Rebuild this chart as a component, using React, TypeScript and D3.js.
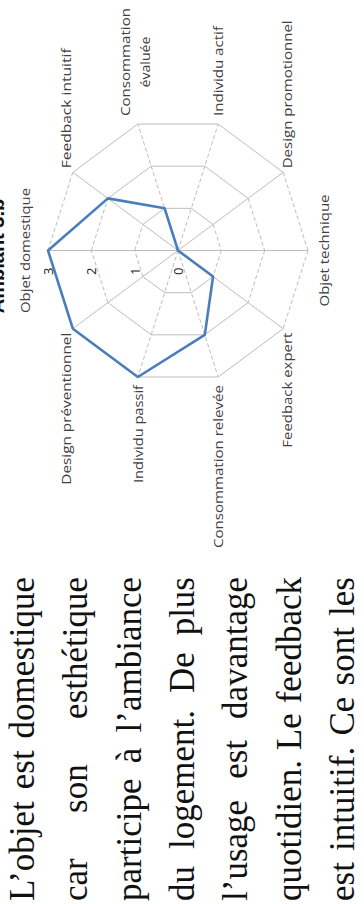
import React from 'react';
import * as d3 from 'd3';

// ---- data ----
const categories = [
  'Objet domestique',
  'Feedback intuitif',
  'Consommation évaluée',
  'Individu actif',
  'Design promotionnel',
  'Objet technique',
  'Feedback expert',
  'Consommation relevée',
  'Individu passif',
  'Design préventionnel',
];
const values = [3, 2, 1, 0, 0, 0, 1, 2, 3, 3];
const ticks = [0, 1, 2, 3];
const chartTitle = 'Ambiant 3.b';
const paragraphLines = [
  'L’objet est domestique',
  'car son esthétique',
  'participe à l’ambiance',
  'du logement. De plus',
  'l’usage est davantage',
  'quotidien. Le feedback',
  'est intuitif. Ce sont les',
];

// ---- layout (page is rotated -90deg; coordinates below are in the upright frame) ----
const W = 364;
const H = 904;
const UP_W = H; // upright width
const cx = 653.5;
const cy = 178;
const R = 130;
const sx = 1.023;
const labelFontSize = 13;
const labelFamily = "'Open Sans', 'DejaVu Sans', sans-serif";
// rendered widths of the (horizontally stretched) label texts, px
const labelWidths: Record<string, number> = {
  'Objet domestique': 125,
  'Feedback intuitif': 120,
  Consommation: 108,
  'évaluée': 51,
  'Individu actif': 90,
  'Design promotionnel': 148,
  'Objet technique': 112,
  'Feedback expert': 115,
  'Consommation relevée': 163,
  'Individu passif': 98,
  'Design préventionnel': 152,
};
const bodyFontSize = 35;
const bodyFamily = "'Liberation Serif', 'Times New Roman', serif";
const colLeft = 3;
const colRight = 327;
const lineTop = 34;
const linePitch = 53.3;

let ctx: CanvasRenderingContext2D | null = null;
function measure(text: string, font: string): number {
  if (!ctx) ctx = document.createElement('canvas').getContext('2d');
  if (!ctx) return text.length * 8;
  ctx.font = font;
  return ctx.measureText(text).width;
}

export default function App() {
  const n = categories.length;
  const r = d3.scaleLinear().domain([0, d3.max(ticks) as number]).range([0, R]);
  const ang = d3.scaleLinear().domain([0, n]).range([0, 2 * Math.PI]);
  const pt = (i: number, v: number): [number, number] => [
    cx + r(v) * Math.sin(ang(i)) * sx,
    cy - r(v) * Math.cos(ang(i)),
  ];

  // grid segments
  const segs: [number, number][][] = [];
  ticks.filter((t) => t > 0).forEach((t) => {
    for (let i = 0; i < n; i++) segs.push([pt(i, t), pt((i + 1) % n, t)]);
  });
  categories.forEach((_, i) => segs.push([pt(i, 0), pt(i, ticks[ticks.length - 1])]));
  const dashed = (s: [number, number][]) =>
    Math.abs(s[1][1] - s[0][1]) < 0.5 * Math.abs(s[1][0] - s[0][0]);

  const seriesPath = d3
    .line<number>()
    .x((v, i) => pt(i, v)[0])
    .y((v, i) => pt(i, v)[1])
    .curve(d3.curveLinearClosed)(values) as string;

  const labelFont = `${labelFontSize}px ${labelFamily}`;
  const widthOf = (s: string) => labelWidths[s] ?? measure(s, labelFont) * 1.2;
  const maxT = ticks[ticks.length - 1];

  const labels = categories.map((name, i) => {
    const a = ang(i);
    const s = Math.sin(a);
    const c = Math.cos(a);
    const [vx, vy] = pt(i, maxT);
    if (Math.abs(s) < 0.01) {
      return (
        <text
          key={i}
          x={vx}
          y={c > 0 ? vy - 18 : vy + 21}
          textAnchor="middle"
          textLength={widthOf(name)}
          lengthAdjust="spacingAndGlyphs"
        >
          {name}
        </text>
      );
    }
    const side = s > 0 ? 1 : -1;
    const off = Math.abs(s) > 0.9 ? 8 : 4;
    const x = vx + side * off;
    let y = vy;
    let db: any = 'auto';
    if (c > 0.5) y = vy - 2;
    else if (c < -0.5) y = vy + 9;
    else db = 'central';
    const w = widthOf(name);
    if (side > 0 && x + w > UP_W - 4) {
      const words = name.split(' ');
      const mw = d3.max(words, (wd) => widthOf(wd)) as number;
      const lh = 20;
      return (
        <g key={i}>
          {words.map((wd, k) => (
            <text
              key={k}
              x={x + mw / 2}
              y={vy - 3 + (k - (words.length - 1) / 2) * lh}
              textAnchor="middle"
              dominantBaseline="central"
              textLength={widthOf(wd)}
              lengthAdjust="spacingAndGlyphs"
            >
              {wd}
            </text>
          ))}
        </g>
      );
    }
    return (
      <text
        key={i}
        x={x}
        y={y}
        textAnchor={side > 0 ? 'start' : 'end'}
        dominantBaseline={db}
        textLength={w}
        lengthAdjust="spacingAndGlyphs"
      >
        {name}
      </text>
    );
  });

  const bodyFont = `${bodyFontSize}px ${bodyFamily}`;
  const spaceW = measure(' ', bodyFont);
  const paragraph = paragraphLines.map((line, li) => {
    const words = line.split(' ');
    const widths = words.map((w) => measure(w, bodyFont));
    const total = d3.sum(widths);
    const gap = words.length > 1 ? (colRight - colLeft - total) / (words.length - 1) : spaceW;
    let x = colLeft;
    const y = lineTop + li * linePitch;
    return words.map((w, k) => {
      const el = (
        <text key={`${li}-${k}`} x={x} y={y}>
          {w}
        </text>
      );
      x += widths[k] + Math.max(gap, spaceW);
      return el;
    });
  });

  return (
    <svg
      width={W}
      height={H}
      style={{ position: 'absolute', left: 0, top: 0, display: 'block', background: '#fff' }}
    >
      <rect width={W} height={H} fill="#fff" />
      <g transform={`translate(0,${H}) rotate(-90)`}>
        {/* paragraph */}
        <g fontFamily={bodyFamily} fontSize={bodyFontSize} fill="#111">
          {paragraph}
        </g>

        {/* title (mostly cropped by the page edge) */}
        <text
          x={648}
          y={4}
          textAnchor="middle"
          fontFamily="'Liberation Sans', Arial, sans-serif"
          fontWeight="bold"
          fontSize={20}
          fill="#111"
        >
          {chartTitle}
        </text>

        {/* grid */}
        <g stroke="#bdbdbd" strokeWidth={1} fill="none">
          {segs.map((s, k) => (
            <line
              key={k}
              x1={s[0][0]}
              y1={s[0][1]}
              x2={s[1][0]}
              y2={s[1][1]}
              strokeDasharray={dashed(s) ? '4 2.5' : undefined}
            />
          ))}
        </g>

        {/* series */}
        <path d={seriesPath} fill="none" stroke="#4a7ebb" strokeWidth={2.6} strokeLinejoin="round" />

        {/* tick labels */}
        <g fontFamily={labelFamily} fontSize={13} fill="#222" textAnchor="end">
          {ticks.map((t) => (
            <text key={t} x={cx - 17} y={cy - r(t)} dominantBaseline="central">
              {t}
            </text>
          ))}
        </g>

        {/* category labels */}
        <g fontFamily={labelFamily} fontSize={labelFontSize} fill="#404040">
          {labels}
        </g>
      </g>
    </svg>
  );
}
